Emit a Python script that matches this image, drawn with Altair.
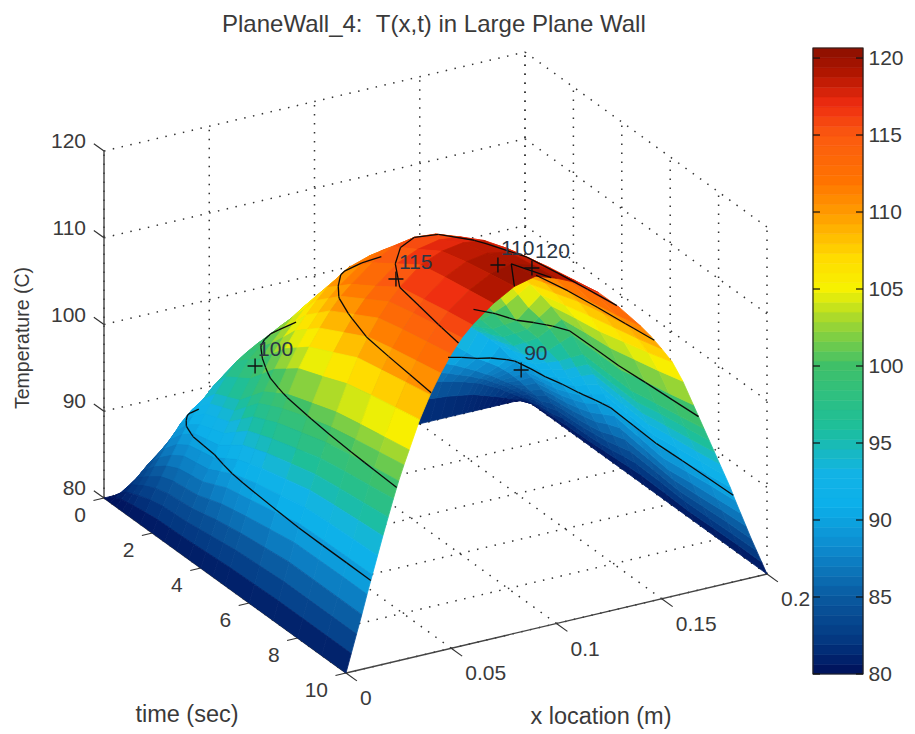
import altair as alt
import numpy as np
import pandas as pd

alt.data_transformers.disable_max_rows()

# ---- values ----------------------------------------------------------------
x_location = [0, .0025, .005, .0075, .01, .0125, .015, .0175, .02, .0225, .025, .0275, .03, .035, .04,
              .045, .05, .055, .06, .07, .08, .09, .1, .11, .12, .13, .14, .145, .15, .155, .16, .165,
              .17, .1725, .175, .1775, .18, .1825, .185, .1875, .19, .1925, .195, .1975, .2]
times = [0, .25, .5, .75, 1, 1.5, 2, 2.5, 3, 3.5, 4, 4.5, 5, 6, 7, 8, 9, 10]
base_temperature = 80
# temperature rise above 80 C, one row per time, one column per x location
rise_t0 = [0] * 45
rise_t025 = [0, .4, .8, 1.2, 1.6, 2, 2.3, 2.6, 2.9, 3.1, 3.3, 3.4, 3.5, 3.6, 3.7, 3.7, 3.8, 3.8, 3.8, 3.8,
             3.8, 3.8, 3.8, 3.8, 3.8, 3.7, 3.6, 3.5, 3.4, 3.2, 3.1, 2.9, 2.7, 2.6, 2.4, 2.2, 2, 1.8, 1.6, 1.4,
             1.1, .9, .6, .3, 0]
rise_t05 = [0, .7, 1.4, 2.1, 2.8, 3.4, 4, 4.5, 5, 5.4, 5.7, 6, 6.2, 6.5, 6.7, 6.8, 6.9, 7, 7, 7, 7, 7, 7, 7, 6.9,
            6.7, 6.4, 6.2, 5.9, 5.6, 5.3, 5, 4.6, 4.4, 4.1, 3.8, 3.5, 3.2, 2.8, 2.4, 2, 1.6, 1.1, .6, 0]
rise_t075 = [0, .85, 1.7, 2.55, 3.35, 4.15, 4.9, 5.6, 6.3, 6.9, 7.45, 7.9, 8.3, 8.85, 9.25, 9.5, 9.7, 9.85, 9.95,
             10, 10, 10, 10, 9.9, 9.65, 9.1, 8.2, 7.85, 7.45, 7.05, 6.6, 6.15, 5.6, 5.35, 5, 4.65, 4.3, 3.95, 3.5,
             3.05, 2.55, 2, 1.35, .7, 0]
rise_t1 = [0, 1, 2, 3, 3.9, 4.9, 5.8, 6.7, 7.6, 8.4, 9.2, 9.8, 10.4, 11.2, 11.8, 12.2, 12.5, 12.7, 12.9, 13, 13,
           13, 13, 12.8, 12.4, 11.5, 10, 9.5, 9, 8.5, 7.9, 7.3, 6.6, 6.3, 5.9, 5.5, 5.1, 4.7, 4.2, 3.7, 3.1,
           2.4, 1.6, .8, 0]
rise_t15 = [0, 1.2, 2.5, 3.7, 4.9, 6, 7.1, 8.2, 9.2, 10.2, 11, 11.9, 12.7, 14, 15, 15.8, 16.3, 16.8, 17.1, 17.7,
            18, 18, 17.9, 17.5, 16.8, 15.8, 14.6, 13.9, 12, 11, 10, 9.3, 8.5, 8, 7.5, 6.9, 6.3, 5.6, 4.9, 4.2,
            3.4, 2.6, 1.7, .9, 0]
rise_t2 = [0, 1.4, 2.8, 4.1, 5.4, 6.7, 8, 9.1, 10.3, 11.2, 12.3, 13.3, 14.3, 16, 17.5, 18.3, 19, 19.6, 20, 21,
           21.7, 22, 21.9, 21.3, 20.2, 18.8, 17.2, 16.4, 15.4, 14.4, 13.3, 12.1, 10.6, 9.9, 9.2, 8.5, 7.7, 6.9,
           6, 5.1, 4.1, 3.1, 2.1, 1, 0]
rise_t25 = [0, 1.45, 2.9, 4.25, 5.6, 6.95, 8.25, 9.4, 10.65, 11.7, 12.85, 13.9, 14.95, 16.9, 18.7, 19.8, 20.8,
            21.7, 22.3, 23.5, 24.2, 24.5, 24.4, 23.6, 22.3, 20.6, 18.4, 17.4, 16.2, 15.1, 13.9, 12.7, 11.2, 10.5,
            9.7, 8.9, 8.1, 7.2, 6.3, 5.3, 4.3, 3.2, 2.15, 1.05, 0]
rise_t3 = [0, 1.5, 3, 4.4, 5.8, 7.2, 8.5, 9.7, 11, 12.2, 13.4, 14.5, 15.6, 17.8, 19.8, 21.3, 22.6, 23.7, 24.6, 26,
           26.8, 27, 26.8, 25.8, 24.2, 22.2, 19.6, 18.3, 17, 15.8, 14.5, 13.2, 11.8, 11, 10.1, 9.3, 8.4, 7.5, 6.5,
           5.5, 4.4, 3.3, 2.2, 1.1, 0]
rise_t35 = [0, 1.6, 3.2, 4.75, 6.3, 7.85, 9.25, 10.6, 12, 13.35, 14.7, 15.95, 17.1, 19.35, 21.4, 23, 24.4, 25.7,
            26.8, 28.3, 29.1, 29.4, 29.2, 28.2, 26.7, 24.6, 21.8, 20.2, 18.5, 17.2, 15.9, 14.4, 13, 12, 11, 10.1,
            9, 8, 6.9, 5.8, 4.6, 3.5, 2.3, 1.2, 0]
rise_t4 = [0, 1.7, 3.4, 5.1, 6.8, 8.5, 10, 11.5, 13, 14.5, 16, 17.4, 18.6, 20.9, 23, 24.8, 26.3, 27.7, 28.9, 30.6,
           31.4, 31.7, 31.5, 30.6, 29.2, 27, 24, 22.1, 20, 18.7, 17.4, 15.7, 14.2, 13, 11.9, 10.9, 9.7, 8.6,
           7.4, 6.2, 4.9, 3.7, 2.5, 1.3, 0]
rise_t45 = [0, 1.8, 3.6, 5.35, 7.1, 8.8, 10.45, 12, 13.55, 15.05, 16.65, 18.1, 19.45, 21.95, 24.1, 25.95, 27.55,
            28.95, 30.1, 31.9, 33, 33.4, 33.2, 32.3, 30.8, 28.7, 26, 24.3, 22.5, 21.1, 19.5, 17.6, 15.6, 14.4,
            13.2, 12, 10.8, 9.6, 8.2, 6.9, 5.5, 4.1, 2.8, 1.4, 0]
rise_t5 = [0, 1.9, 3.8, 5.6, 7.4, 9.1, 10.9, 12.5, 14.1, 15.6, 17.3, 18.8, 20.3, 23, 25.2, 27.1, 28.8, 30.2, 31.3,
           33.2, 34.5, 35, 34.8, 33.9, 32.4, 30.4, 27.9, 26.5, 25, 23.4, 21.6, 19.5, 17, 15.7, 14.4, 13, 11.8,
           10.5, 9, 7.5, 6, 4.5, 3, 1.5, 0]
rise_t6 = [0, 2, 4, 5.95, 7.9, 9.75, 11.55, 13.25, 14.9, 16.5, 18.2, 19.85, 21.3, 24.1, 26.6, 28.6, 30.4, 31.9,
           33.1, 35.1, 36.2, 36.7, 36.5, 35.4, 33.8, 31.7, 29, 27.5, 25.8, 24, 22, 19.5, 16.9, 15.5, 14.2, 12.8,
           11.5, 10.1, 8.6, 7.1, 5.7, 4.3, 2.9, 1.4, 0]
rise_t7 = [0, 2.1, 4.2, 6.3, 8.4, 10.4, 12.2, 14, 15.7, 17.4, 19.1, 20.7, 22.3, 25.3, 28, 30.1, 32, 33.6, 35,
           37, 38, 38.4, 38.1, 36.7, 35.1, 33, 30, 28.5, 26.6, 24.5, 22.3, 19.5, 16.8, 15.4, 14, 12.6, 11.2,
           9.7, 8.2, 6.7, 5.4, 4, 2.7, 1.3, 0]
rise_t8 = [0, 2.1, 4.2, 6.3, 8.45, 10.5, 12.4, 14.3, 16.1, 17.9, 19.7, 21.3, 22.9, 26, 28.6, 30.8, 32.7, 34.3,
           35.6, 37.6, 38.8, 39.2, 38.8, 37.5, 35.8, 33.6, 30.7, 29.2, 27.3, 25.3, 23, 20.2, 17.4, 16, 14.5, 13.1,
           11.7, 10.2, 8.6, 7.1, 5.6, 4.2, 2.8, 1.4, 0]
rise_t9 = [0, 2.1, 4.2, 6.3, 8.5, 10.55, 12.55, 14.55, 16.45, 18.35, 20.2, 21.85, 23.45, 26.6, 29.2, 31.4, 33.3,
           34.9, 36.2, 38.1, 39.4, 40, 39.3, 38.1, 36.4, 34.2, 31.3, 29.8, 28, 26.1, 23.7, 20.8, 17.9, 16.5, 15,
           13.5, 12.1, 10.6, 9, 7.4, 5.9, 4.4, 2.9, 1.5, 0]
rise_t10 = [0, 2.1, 4.2, 6.3, 8.5, 10.6, 12.7, 14.8, 16.8, 18.8, 20.7, 22.4, 24, 27.2, 29.8, 32, 33.9, 35.5, 36.7,
            38.6, 40, 40.6, 39.8, 38.7, 37, 34.7, 32, 30.5, 28.8, 27, 24.5, 21.5, 18.5, 17, 15.5, 14, 12.5, 11,
            9.3, 7.7, 6.1, 4.5, 3, 1.5, 0]

contour_levels = [90, 100, 110, 115, 120]
label_text = ["100", "115", "110", "120", "90"]
label_x = [.0336, .0627, .1277, .0954, .17]
label_t = [3.32, 6.61, 5.17, 9.385, 2.45]
label_T = [100, 115, 110, 120, 90]

x_ticks = [0, .05, .1, .15, .2]
x_tick_text = ["0", "0.05", "0.1", "0.15", "0.2"]
t_ticks = [0, 2, 4, 6, 8, 10]
T_ticks = [80, 90, 100, 110, 120]
bar_ticks = [80, 85, 90, 95, 100, 105, 110, 115, 120]

jet_T = [80, 82, 85, 88, 91, 93, 96, 100, 103, 105, 107, 110, 112, 115, 117, 119, 120.65]
jet_colors = ["#000f58", "#03357f", "#0a5aa0", "#0d88cc", "#0cb0ea", "#12b3e6", "#1dbf9a", "#3fc068", "#a4d82e",
              "#f7f200", "#ffdc00", "#ff9a00", "#ff7400", "#fb5a10", "#ee2c10", "#b21600", "#8a1000"]

# ---- the view of the 3-D box -----------------------------------------------
X0, Y0 = 104, 498
X_DIR = (421, -99)
T_DIR = (242, 175)
Z_PX = 347


def project(x, t, T):
    a, b, c = np.asarray(x) / .2, np.asarray(t) / 10, (np.asarray(T) - 80) / 40
    return X0 + a * X_DIR[0] + b * T_DIR[0], Y0 + a * X_DIR[1] + b * T_DIR[1] - c * Z_PX


rows = [rise_t0, rise_t025, rise_t05, rise_t075, rise_t1, rise_t15, rise_t2, rise_t25, rise_t3, rise_t35, rise_t4,
        rise_t45, rise_t5, rise_t6, rise_t7, rise_t8, rise_t9, rise_t10]
xs = np.array(x_location, float)
ts = np.array(times, float)
TT = base_temperature + np.array(rows, float)


def surface(x, t):
    col = np.array([np.interp(x, xs, TT[i]) for i in range(len(ts))])
    return np.interp(t, ts, col)


# direction of the line of sight, per unit of t (towards the viewer)
_dx = -T_DIR[0] / X_DIR[0] * .2 / 10
_dT = ((X_DIR[1] * _dx / .2) + T_DIR[1] / 10) / Z_PX * 40


def visible(x, t, T):
    s = np.arange(.3, 10.01, .05)
    rx, rt, rT = x + s * _dx, t + s, T + s * _dT
    keep = (rx >= 0) & (rt <= 10)
    if not keep.any():
        return True
    h = np.array([rT_i - surface(a, b) for a, b, rT_i in zip(rx[keep], rt[keep], rT[keep])])
    return bool((h > -.6).all() or (h < .6).all())


# painter's order: far cells first
quad_rows = []
qid = 0
for i in range(len(ts) - 1):
    for j in range(len(xs) - 2, -1, -1):
        corners = [(j, i), (j + 1, i), (j + 1, i + 1), (j, i + 1)]
        mean_T = float(np.mean([TT[b, a] for a, b in corners]))
        for k, (a, b) in enumerate(corners):
            sx, sy = project(xs[a], ts[b], TT[b, a])
            quad_rows.append(dict(sx=float(sx), sy=float(sy), q=qid, k=k, T=round(mean_T, 2)))
        qid += 1
quads = pd.DataFrame(quad_rows)

# contour segments from the table
seg_rows = []
sid = 0
for level in contour_levels:
    lv = level + 1e-6  # keeps a contour from stopping at a table value equal to the level
    for i in range(len(ts) - 1):
        for j in range(len(xs) - 1):
            c = [(xs[j], ts[i], TT[i, j]), (xs[j + 1], ts[i], TT[i, j + 1]),
                 (xs[j + 1], ts[i + 1], TT[i + 1, j + 1]), (xs[j], ts[i + 1], TT[i + 1, j])]
            pts = []
            for m in range(4):
                p, q = c[m], c[(m + 1) % 4]
                if (p[2] - lv) * (q[2] - lv) < 0:
                    f = (lv - p[2]) / (q[2] - p[2])
                    pts.append((p[0] + f * (q[0] - p[0]), p[1] + f * (q[1] - p[1])))
            if len(pts) >= 2:
                mid = ((pts[0][0] + pts[1][0]) / 2, (pts[0][1] + pts[1][1]) / 2)
                if visible(mid[0], mid[1], level):
                    for k, pt in enumerate(pts[:2]):
                        sx, sy = project(pt[0], pt[1], level)
                        seg_rows.append(dict(sx=float(sx), sy=float(sy), s=sid, k=k))
                    sid += 1
segments = pd.DataFrame(seg_rows)


def lines(pairs):
    out = []
    for n, (a, b) in enumerate(pairs):
        for k, p in enumerate((a, b)):
            sx, sy = project(*p)
            out.append(dict(sx=float(sx), sy=float(sy), s=n, k=k))
    return pd.DataFrame(out)


grid_pairs = []
for x in x_ticks:
    grid_pairs += [((x, 0, 80), (x, 0, 120)), ((x, 0, 80), (x, 10, 80))]
for t in t_ticks:
    grid_pairs += [((.2, t, 80), (.2, t, 120)), ((0, t, 80), (.2, t, 80))]
for T in T_ticks:
    grid_pairs += [((0, 0, T), (.2, 0, T)), ((.2, 0, T), (.2, 10, T))]
grid = lines(grid_pairs)

axis_pairs = [((0, 0, 80), (0, 0, 120)), ((0, 0, 80), (0, 10, 80)), ((0, 10, 80), (.2, 10, 80))]
tick_pairs = ([((0, 0, T), (0, -.42, T)) for T in T_ticks]
              + [((0, t, 80), (-.005, t, 80)) for t in t_ticks]
              + [((x, 10, 80), (x, 10.45, 80)) for x in x_ticks])

W, H = 804, 678
XS = alt.X("sx:Q", scale=alt.Scale(domain=[8, 812]), axis=None)
YS = alt.Y("sy:Q", scale=alt.Scale(domain=[726, 48]), axis=None)
jet = alt.Scale(domain=jet_T, range=jet_colors, interpolate="rgb")

grid_layer = alt.Chart(grid).mark_line(color="#333333", strokeWidth=1.5, strokeDash=[1.5, 7.5]).encode(
    x=XS, y=YS, detail="s:N", order="k:Q")
axis_layer = alt.Chart(lines(axis_pairs)).mark_line(color="#444444", strokeWidth=1.4).encode(
    x=XS, y=YS, detail="s:N", order="k:Q")
tick_layer = alt.Chart(lines(tick_pairs)).mark_line(color="#333333", strokeWidth=1.2).encode(
    x=XS, y=YS, detail="s:N", order="k:Q")
surface_layer = alt.Chart(quads).mark_line(filled=True, interpolate="linear-closed", strokeWidth=.8).encode(
    x=XS, y=YS, detail="q:N", order="k:Q",
    fill=alt.Fill("T:Q", scale=jet, legend=None),
    stroke=alt.Stroke("T:Q", scale=jet, legend=None))
contour_layer = alt.Chart(segments).mark_line(color="#0a0a0a", strokeWidth=1.3).encode(
    x=XS, y=YS, detail="s:N", order="k:Q")

lsx, lsy = project(label_x, label_t, label_T)
lab = pd.DataFrame(dict(sx=lsx, sy=lsy, text=label_text))
plus_layer = alt.Chart(lab).mark_point(shape="M-1,0L1,0M0,-1L0,1", size=225, color="#101010", strokeWidth=1.4,
                                       filled=False, opacity=1).encode(x=XS, y=YS)
contour_text = alt.Chart(lab).mark_text(align="left", dx=3, dy=-16, fontSize=21, font="Liberation Sans",
                                        color="#2a3644").encode(x=XS, y=YS, text="text:N")

FONT = dict(font="Liberation Sans", color="#3a3a3a")
sx, sy = project([0] * 5, [0] * 5, T_ticks)
T_text = alt.Chart(pd.DataFrame(dict(sx=sx, sy=sy, text=[str(v) for v in T_ticks]))).mark_text(
    align="right", baseline="middle", dx=-18, dy=-9, fontSize=21, **FONT).encode(x=XS, y=YS, text="text:N")
sx, sy = project([0] * 6, t_ticks, [80] * 6)
t_text = alt.Chart(pd.DataFrame(dict(sx=sx, sy=sy, text=[str(v) for v in t_ticks]))).mark_text(
    align="right", baseline="middle", dx=-18, dy=18, fontSize=21, **FONT).encode(x=XS, y=YS, text="text:N")
sx, sy = project(x_ticks, [10] * 5, [80] * 5)
x_text = alt.Chart(pd.DataFrame(dict(sx=sx, sy=sy, text=x_tick_text))).mark_text(
    align="left", baseline="middle", dx=14, dy=26, fontSize=21, **FONT).encode(x=XS, y=YS, text="text:N")

axis_titles = pd.DataFrame(dict(text=["time (sec)", "x location (m)", "Temperature (C)"]))
time_title = alt.Chart(axis_titles[axis_titles.text == "time (sec)"]).mark_text(fontSize=23.5, baseline="middle", **FONT).encode(
    x=alt.value(187 - 8), y=alt.value(715 - 48), text="text:N")
x_title = alt.Chart(axis_titles[axis_titles.text == "x location (m)"]).mark_text(fontSize=23.5, baseline="middle", **FONT).encode(
    x=alt.value(601 - 8), y=alt.value(717 - 48), text="text:N")
T_title = alt.Chart(axis_titles[axis_titles.text == "Temperature (C)"]).mark_text(fontSize=19.5, angle=270, baseline="middle", **FONT).encode(
    x=alt.value(23 - 8), y=alt.value(338 - 48), text="text:N")

main = alt.layer(grid_layer, axis_layer, tick_layer, surface_layer, contour_layer, plus_layer, contour_text,
                 T_text, t_text, x_text, time_title, x_title, T_title).properties(width=W, height=H)

# ---- colour bar -------------------------------------------------------------
bar_step = 40.65 / 64
bar_low = [80 + i * bar_step for i in range(64)]
bar = pd.DataFrame(dict(lo=bar_low, hi=[v + bar_step for v in bar_low], mid=[v + bar_step / 2 for v in bar_low]))
BAR_Y = alt.Scale(domain=[80, 120.65])
bar_rect = alt.Chart(bar).mark_rect(strokeWidth=.6).encode(
    x=alt.value(0), x2=alt.value(50),
    y=alt.Y("lo:Q", scale=BAR_Y,
            axis=alt.Axis(orient="right", values=bar_ticks, title=None, domain=False, ticks=False, grid=False,
                          labelFontSize=21, labelFont="Liberation Sans", labelColor="#3a3a3a", labelPadding=5)),
    y2="hi:Q",
    fill=alt.Fill("mid:Q", scale=jet, legend=None),
    stroke=alt.Stroke("mid:Q", scale=jet, legend=None))
frame = alt.Chart(pd.DataFrame(dict(lo=[80], hi=[120.65]))).mark_rect(fillOpacity=0, stroke="#222222", strokeWidth=1.2).encode(
    x=alt.value(0), x2=alt.value(50), y=alt.Y("lo:Q", scale=BAR_Y), y2="hi:Q")
tk = pd.DataFrame(dict(v=bar_ticks))
tick_l = alt.Chart(tk).mark_rule(color="#111111", strokeWidth=1.2).encode(
    x=alt.value(0), x2=alt.value(7), y=alt.Y("v:Q", scale=BAR_Y))
tick_r = alt.Chart(tk).mark_rule(color="#111111", strokeWidth=1.2).encode(
    x=alt.value(43), x2=alt.value(50), y=alt.Y("v:Q", scale=BAR_Y))
colorbar = alt.layer(bar_rect, frame, tick_l, tick_r).properties(width=50, height=626)

chart = alt.hconcat(main, colorbar, spacing=0).properties(
    title=alt.TitleParams("PlaneWall_4:\u00a0\u00a0T(x,t) in Large Plane Wall", anchor="start", dx=214, fontSize=24,
                          fontWeight="normal", font="Liberation Sans", color="#3a3a3a", offset=10),
    padding={"top": 5, "left": 0, "right": 0, "bottom": 0},
).configure_view(stroke=None)

chart.save("out.html", embed_options={"renderer": "svg", "actions": False})
